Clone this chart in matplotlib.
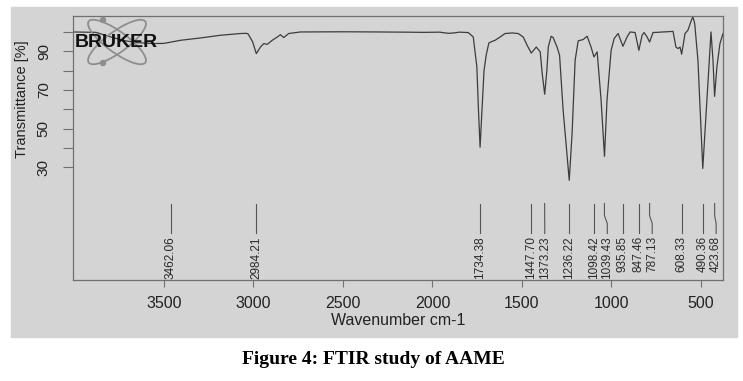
import numpy as np
import matplotlib
matplotlib.use("Agg")
import matplotlib.pyplot as plt
from matplotlib.patches import Rectangle, Ellipse, Circle

plt.rcParams["font.family"] = ["Liberation Sans", "DejaVu Sans"]

# spectrum (wavenumber cm-1, transmittance %)
wavenumber = [4005, 3880, 3800, 3720, 3650, 3560, 3500, 3407, 3296, 3184, 3072,
              3040, 3030, 3005, 2984, 2961, 2942, 2923, 2895, 2867, 2849, 2831,
              2803, 2738, 2500, 2300, 2150, 2050, 1960, 1910, 1880, 1850, 1800,
              1772, 1752, 1744, 1734, 1722, 1712, 1700, 1685, 1665, 1650, 1622,
              1594, 1555, 1521, 1493, 1471, 1448, 1420, 1398, 1387, 1373, 1361,
              1353, 1337, 1326, 1304, 1290, 1270, 1236, 1220, 1203, 1186, 1158,
              1136, 1114, 1098, 1080, 1058, 1039, 1025, 1002, 985, 963, 936, 913,
              896, 868, 847, 829, 818, 801, 787, 768, 712, 656, 640, 628, 617,
              608, 589, 573, 552, 545, 535, 517, 490, 467, 444, 433, 424, 411,
              394, 377]
transmittance = [100.0, 99.8, 97.5, 95.5, 94.5, 94.0, 94.1, 95.7, 96.9, 98.3, 99.2,
                 99.3, 99.0, 95.0, 88.8, 92.2, 94.0, 93.6, 95.7, 97.4, 98.6, 97.1,
                 99.2, 100.0, 100.1, 100.0, 99.9, 99.8, 99.9, 99.3, 99.5, 99.9, 99.7,
                 97.4, 82.0, 62.0, 40.4, 62.0, 80.0, 88.0, 94.3, 95.2, 95.7, 97.4,
                 99.2, 99.5, 99.2, 97.4, 93.1, 89.1, 92.2, 89.7, 78.5, 67.8, 80.0,
                 92.2, 97.8, 97.1, 92.2, 88.0, 59.5, 23.3, 47.6, 85.4, 95.4, 96.1,
                 97.8, 92.2, 87.1, 89.7, 64.7, 35.7, 64.7, 90.5, 96.6, 99.2, 92.6, 97.4,
                 100.0, 99.7, 90.5, 98.3, 99.7, 97.4, 94.8, 99.7, 100.0, 100.3, 92.2, 91.4, 92.2,
                 88.5, 99.2, 100.9, 106.5, 107.8, 104.3, 85.4, 29.4, 64.7, 100.0, 85.4, 66.7, 82.0,
                 94.0, 99.2]

peak_wn = [3462.06, 2984.21, 1734.38, 1447.70, 1373.23, 1236.22, 1098.42,
           1039.43, 935.85, 847.46, 787.13, 608.33, 490.36, 423.68]
peak_labels = ["%.2f" % p for p in peak_wn]

x_ticks = [3500, 3000, 2500, 2000, 1500, 1000, 500]
y_ticks = [30, 40, 50, 60, 70, 80, 90, 100]
y_tick_labels = ["30", "", "50", "", "70", "", "90", ""]

bg = "#d4d4d4"
ink = "#3c3c3c"

fig = plt.figure(figsize=(7.43, 3.81), dpi=100)
fig.patches.append(Rectangle((11 / 743, 1 - 337 / 381), 726 / 743, 330 / 381,
                             transform=fig.transFigure, color=bg, zorder=-5))

ax = fig.add_axes([73 / 743, 1 - 279.5 / 381, 650 / 743, 263 / 381])
ax.set_facecolor(bg)
ax.plot(wavenumber, transmittance, color=ink, lw=0.9)
ax.set_xlim(4008, 377)
ax.set_ylim(-28, 108)

# peak picking labels, pushed apart where they would overlap
gap = 75
label_x = []
for p in peak_wn:
    lx = p if not label_x else min(p, label_x[-1] - gap)
    label_x.append(lx)
for p, lx, txt in zip(peak_wn, label_x, peak_labels):
    ax.plot([p, p, lx, lx], [11.3, 5.0, 1.0, -4.2], color="#555555", lw=0.8)
    ax.text(lx, -5.6, txt, rotation=90, ha="center", va="top",
            fontsize=8.5, color="#2a2a2a")

for s in ax.spines.values():
    s.set_color("#707070")
    s.set_linewidth(0.9)
ax.set_xticks(x_ticks)
ax.set_xticklabels([str(t) for t in x_ticks])
ax.set_yticks(y_ticks)
ax.set_yticklabels(y_tick_labels, rotation=90, va="center")
ax.tick_params(axis="x", length=5, color="#707070", labelsize=11.5, labelcolor="#222222", pad=7)
ax.tick_params(axis="y", length=7, color="#707070", labelsize=11, labelcolor="#222222", pad=9)

ax.set_xlabel("Wavenumber cm-1", fontsize=11.5, color="#222222")
ax.xaxis.set_label_coords(0.5, -0.128)
ax.text(-0.078, 0.685, "Transmittance [%]", transform=ax.transAxes, rotation=90,
        ha="center", va="center", fontsize=10.5, color="#222222")

# Bruker logo
for ang in (36, -36):
    ax.add_patch(Ellipse((1.17, 3.39), 0.70, 0.21, angle=ang, fill=False, ec="#8e8e8e",
                         lw=1.3, transform=fig.dpi_scale_trans, zorder=3, clip_on=False))
for cy in (3.61, 3.18):
    ax.add_patch(Circle((1.03, cy), 0.025, color="#8e8e8e", zorder=3, clip_on=False,
                        transform=fig.dpi_scale_trans))
ax.text(0.003, 0.903, "BRUKER", transform=ax.transAxes, ha="left", va="center",
        fontsize=14, fontweight="bold", color="#111111", zorder=4)

fig.text(373 / 743, 1 - 360 / 381, "Figure 4: FTIR study of AAME", ha="center",
         va="center", fontsize=14, fontweight="bold", family="Liberation Serif")

fig.savefig("out.png", dpi=100, facecolor="white")
